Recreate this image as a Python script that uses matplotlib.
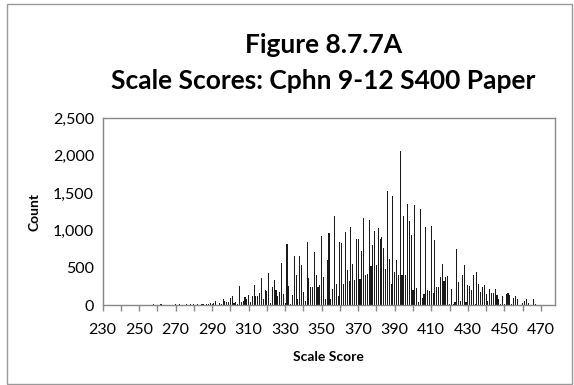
import matplotlib.pyplot as plt
from matplotlib.patches import Rectangle
from matplotlib.ticker import FuncFormatter, MultipleLocator

# Scale scores with non-zero counts and their counts
scores = [230, 238, 256, 258, 260, 262, 264, 266, 270, 272, 274, 276, 278,
          280, 282, 284, 285, 287, 288, 289, 290, 291,
          292, 294, 295, 296, 297, 298, 299, 300, 301, 302, 303, 304, 305,
          306, 307, 308, 309, 310, 311, 312, 313, 314, 315, 316, 317, 318,
          319, 320, 321, 322, 323, 324, 325, 326, 327, 328, 329, 330, 331,
          332, 333, 334, 335, 336, 337, 338, 339, 340, 341, 342, 343, 344,
          345, 346, 347, 348, 349, 350, 351, 352, 353, 354, 355, 356, 357,
          358, 359, 360, 361, 362, 363, 364, 365, 366, 367, 368, 369, 370,
          371, 372, 373, 374, 375, 376, 377, 378, 379, 380, 381, 382, 383,
          384, 385, 386, 387, 388, 389, 390, 391, 392, 393, 394, 395, 396,
          397, 398, 399, 400, 401, 402, 403, 404, 405, 406, 407, 408, 409,
          410, 411, 412, 413, 414, 415, 416, 417, 418, 419, 420, 421, 422,
          423, 424, 425, 426, 427, 428, 429, 430, 431, 432, 433, 434, 435,
          436, 437, 438, 439, 440, 441, 442, 443, 444, 445, 446, 447, 448,
          449, 450, 451, 452, 453, 454, 455, 456, 457, 458, 459, 460, 461,
          462, 463, 464, 466, 467, 471, 472, 476]
counts = [10, 8, 10, 12, 8, 12, 10, 8, 12, 15, 10, 14, 12,
          15, 18, 15, 20, 22, 18, 25, 20, 30,
          60, 30, 20, 80, 60, 40, 50, 100, 130, 30, 50, 20, 258,
          40, 60, 110, 90, 140, 50, 120, 272, 130, 120, 170, 361, 80,
          200, 190, 428, 30, 250, 339, 200, 120, 180, 570, 150, 30, 820,
          260, 20, 140, 660, 410, 80, 660, 540, 180, 60, 842, 360, 240,
          250, 717, 410, 250, 270, 931, 380, 80, 610, 962, 80, 220, 1190,
          290, 120, 840, 830, 290, 980, 470, 320, 1047, 550, 340, 887, 887,
          350, 730, 1172, 410, 420, 1140, 520, 800, 998, 540, 1030, 880, 909,
          760, 490, 1533, 620, 290, 1462, 440, 600, 400, 2068, 400, 1194, 400,
          1355, 1130, 936, 200, 1337, 230, 40, 1283, 100, 150, 1052, 200, 190,
          1065, 170, 873, 250, 240, 380, 548, 330, 380, 390, 20, 220, 20,
          40, 749, 310, 60, 400, 535, 50, 270, 260, 200, 410, 15, 441,
          280, 180, 250, 270, 150, 60, 220, 170, 170, 220, 140, 80, 20,
          130, 20, 150, 170, 140, 20, 100, 130, 80, 10, 10, 30, 60,
          90, 30, 10, 80, 20, 10, 10, 10]

yticks = [0, 500, 1000, 1500, 2000, 2500]
xticks = list(range(230, 471, 20))

plt.rcParams['font.family'] = ['Lato', 'DejaVu Sans']

fig = plt.figure(figsize=(5.74, 3.85), dpi=100)
ax = fig.add_axes([0.1786, 0.207, 0.7875, 0.486])

ax.bar(scores, counts, width=0.6, color='#1a1a1a', linewidth=0)

ax.set_xlim(230, 477.5)
ax.set_ylim(0, 2500)
ax.set_yticks(yticks)
ax.yaxis.set_major_formatter(FuncFormatter(lambda v, p: f'{int(v):,}'))
ax.set_xticks(xticks)
ax.xaxis.set_minor_locator(MultipleLocator(10))
ax.tick_params(axis='both', which='both', colors='#888888', labelcolor='black',
               labelsize=11.5, direction='out', length=4, width=1)
ax.tick_params(axis='x', which='major', pad=9)
ax.tick_params(axis='y', length=0, pad=6)

for s in ax.spines.values():
    s.set_color('#888888')
    s.set_linewidth(1)

ax.set_xlabel('Scale Score', fontsize=10, fontweight='bold', labelpad=10)
ax.set_ylabel('Count', fontsize=10, fontweight='bold', labelpad=9)

fig.text(0.563, 0.883, 'Figure 8.7.7A', ha='center', va='center',
         fontsize=19, fontweight='bold')
fig.text(0.563, 0.79, 'Scale Scores: Cphn 9-12 S400 Paper', ha='center',
         va='center', fontsize=19, fontweight='bold')

fig.patches.append(Rectangle((7 / 574, 1 / 385), 565 / 574, 380 / 385,
                             transform=fig.transFigure, fill=False,
                             edgecolor='#999999', linewidth=1))

fig.savefig('out.png', dpi=100)
